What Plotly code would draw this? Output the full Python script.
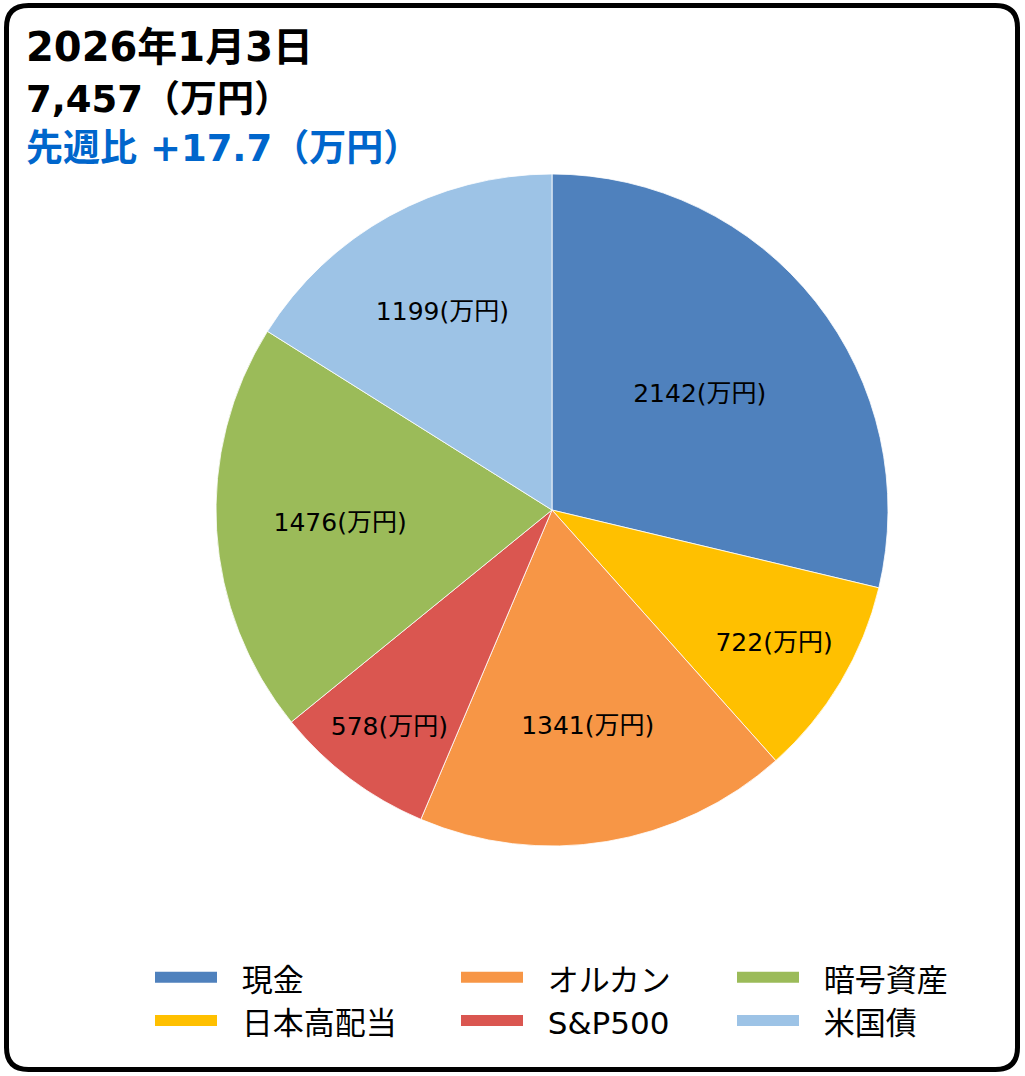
import plotly.graph_objects as go

# values in 万円, clockwise from 12 o'clock
labels = ["現金", "日本高配当", "オルカン", "S&P500", "暗号資産", "米国債"]
values = [2142, 722, 1341, 578, 1476, 1199]
colors = ["#4F81BD", "#FFC000", "#F79646", "#DA5650", "#9BBB59", "#9DC3E6"]

title_date = "2026年1月3日"
total_text = "7,457（万円）"
change_text = "先週比 +17.7（万円）"

# legend is laid out column by column
legend_cols = [["現金", "日本高配当"], ["オルカン", "S&P500"], ["暗号資産", "米国債"]]

W, H = 1025, 1076
FONT = "DejaVu Sans, Noto Sans CJK JP"
GAP = "\u00a0\u00a0"  # room between swatch and legend text


def px_x(v):
    return v / W


def px_y(v):
    return 1 - v / H


fig = go.Figure()

fig.add_trace(
    go.Pie(
        labels=labels,
        values=values,
        sort=False,
        direction="clockwise",
        rotation=0,
        marker=dict(colors=colors, line=dict(color="white", width=0.8)),
        texttemplate="%{value}(万円)",
        textposition="inside",
        insidetextorientation="horizontal",
        textfont=dict(size=25, color="black", family=FONT),
        domain=dict(x=[px_x(216), px_x(888)], y=[px_y(846), px_y(174)]),
        showlegend=False,
        hovertemplate="%{label}: %{value}(万円)<extra></extra>",
    )
)

# dummy traces only for the 3-column legend
color_of = dict(zip(labels, colors))
for i, col in enumerate(legend_cols):
    leg = "legend" if i == 0 else f"legend{i + 1}"
    for name in col:
        fig.add_trace(
            go.Scatter(
                x=[0],
                y=[0],
                mode="lines",
                fill="toself",
                fillcolor=color_of[name],
                line=dict(color=color_of[name], width=10),
                name=GAP + name,
                legend=leg,
                legendgroup=name,
                hoverinfo="skip",
            )
        )


def legend_box(x):
    return dict(
        x=x,
        y=px_y(952),
        xanchor="left",
        yanchor="top",
        orientation="v",
        itemwidth=62,
        tracegroupgap=0,
        font=dict(size=31, family=FONT, color="black"),
        bgcolor="rgba(0,0,0,0)",
    )


# rounded frame round the whole picture
L, R, T, B, rad = 6.5, 1017.5, 5.5, 1069.5, 22
frame = (
    f"M {px_x(L + rad)},{px_y(T)} L {px_x(R - rad)},{px_y(T)} "
    f"Q {px_x(R)},{px_y(T)} {px_x(R)},{px_y(T + rad)} "
    f"L {px_x(R)},{px_y(B - rad)} Q {px_x(R)},{px_y(B)} {px_x(R - rad)},{px_y(B)} "
    f"L {px_x(L + rad)},{px_y(B)} Q {px_x(L)},{px_y(B)} {px_x(L)},{px_y(B - rad)} "
    f"L {px_x(L)},{px_y(T + rad)} Q {px_x(L)},{px_y(T)} {px_x(L + rad)},{px_y(T)} Z"
)

fig.update_layout(
    width=W,
    height=H,
    margin=dict(l=0, r=0, t=0, b=0),
    paper_bgcolor="white",
    plot_bgcolor="white",
    font=dict(family=FONT, color="black"),
    xaxis=dict(visible=False),
    yaxis=dict(visible=False),
    legend=legend_box(px_x(150)),
    legend2=legend_box(px_x(456)),
    legend3=legend_box(px_x(732)),
    shapes=[
        dict(type="path", xref="paper", yref="paper", path=frame,
             line=dict(color="black", width=5), fillcolor="rgba(0,0,0,0)")
    ],
    annotations=[
        dict(text=f"<b>{title_date}</b>", x=px_x(24), y=px_y(47), xref="paper", yref="paper",
             xanchor="left", yanchor="middle", showarrow=False,
             font=dict(size=40, color="black")),
        dict(text=f"<b>{total_text}</b>", x=px_x(24), y=px_y(100), xref="paper", yref="paper",
             xanchor="left", yanchor="middle", showarrow=False,
             font=dict(size=37, color="black")),
        dict(text=f"<b>{change_text}</b>", x=px_x(24), y=px_y(148), xref="paper", yref="paper",
             xanchor="left", yanchor="middle", showarrow=False,
             font=dict(size=37, color="#0066CC")),
    ],
)

fig.write_html(
    "out.html",
    config={"displayModeBar": False},
    post_script="document.body.style.margin='0';",
)
